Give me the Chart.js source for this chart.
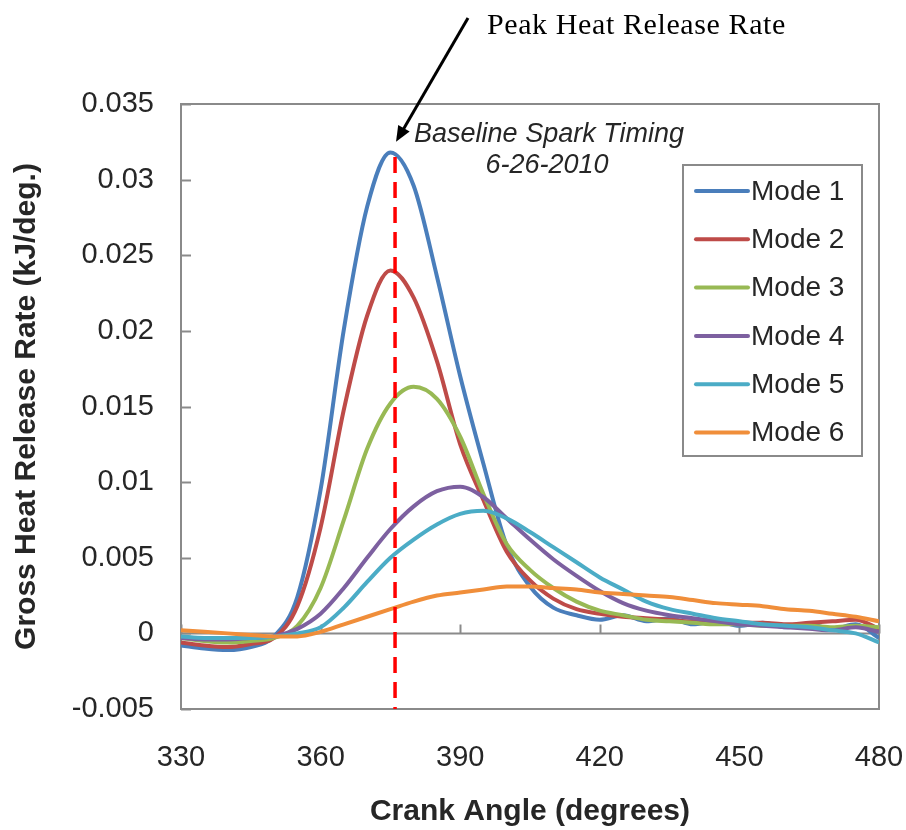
<!DOCTYPE html>
<html>
<head>
<meta charset="utf-8">
<script src="https://cdn.jsdelivr.net/npm/chart.js@4.4.0/dist/chart.umd.min.js"></script>
<style>
  html, body { margin: 0; padding: 0; background: #fff; }
  #wrap { width: 906px; height: 830px; }
</style>
</head>
<body>
<div id="wrap"><canvas id="hrrChart"></canvas></div>
<script>
// Crank angle samples (degrees)
const angles = [330, 335, 340, 345, 350, 355, 360, 365, 370, 375, 380, 385, 390, 395, 400, 405,
                410, 415, 420, 425, 430, 435, 440, 445, 450, 455, 460, 465, 470, 475, 480];

// Gross heat release rate per mode (kJ/deg.)
const mode1 = [-0.0008, -0.0010, -0.0011, -0.0009, -0.0002, 0.0024, 0.0095, 0.0201, 0.0282, 0.0318, 0.0296,
               0.0236, 0.0170, 0.0112, 0.0058, 0.0031, 0.0017, 0.0012, 0.0009, 0.0012, 0.0008, 0.0010,
               0.0006, 0.0008, 0.0005, 0.0007, 0.0004, 0.0006, 0.0003, 0.0006, -0.0003];
const mode2 = [-0.0006, -0.0008, -0.0009, -0.0007, -0.0003, 0.0018, 0.0070, 0.0148, 0.0210, 0.0240, 0.0222,
               0.0180, 0.0125, 0.0088, 0.0054, 0.0035, 0.0023, 0.0016, 0.0013, 0.0011, 0.0010, 0.0009,
               0.0008, 0.0008, 0.0007, 0.0007, 0.0006, 0.0007, 0.0008, 0.0009, 0.0003];
const mode3 = [-0.0003, -0.0005, -0.0006, -0.0005, -0.0003, 0.0005, 0.0030, 0.0075, 0.0122, 0.0152, 0.0163,
               0.0155, 0.0130, 0.0092, 0.0059, 0.0042, 0.0030, 0.0021, 0.0015, 0.0012, 0.0009, 0.0008,
               0.0007, 0.0006, 0.0006, 0.0005, 0.0005, 0.0005, 0.0004, 0.0005, 0.0004];
const mode4 = [-0.0003, -0.0004, -0.0004, -0.0003, -0.0002, 0.0003, 0.0013, 0.0030, 0.0050, 0.0069, 0.0084,
               0.0094, 0.0097, 0.0090, 0.0076, 0.0062, 0.0049, 0.0038, 0.0028, 0.0020, 0.0015, 0.0012,
               0.0010, 0.0008, 0.0006, 0.0005, 0.0004, 0.0003, 0.0002, 0.0004, 0.0001];
const mode5 = [-0.0002, -0.0003, -0.0003, -0.0003, -0.0002, 0.0000, 0.0004, 0.0017, 0.0034, 0.0050, 0.0062,
               0.0072, 0.0079, 0.0081, 0.0076, 0.0067, 0.0057, 0.0047, 0.0037, 0.0029, 0.0021, 0.0016,
               0.0013, 0.0010, 0.0008, 0.0006, 0.0005, 0.0004, 0.0002, 0.0000, -0.0006];
const mode6 = [0.0002, 0.0001, 0.0000, -0.0001, -0.0002, -0.0002, 0.0001, 0.0006, 0.0011, 0.0016, 0.0021,
               0.0025, 0.0027, 0.0029, 0.0031, 0.0031, 0.0030, 0.0029, 0.0027, 0.0026, 0.0025, 0.0024,
               0.0022, 0.0020, 0.0019, 0.0018, 0.0016, 0.0015, 0.0013, 0.0011, 0.0008];

const modeNames = ['Mode 1', 'Mode 2', 'Mode 3', 'Mode 4', 'Mode 5', 'Mode 6'];
const modeColors = ['#4A7EBB', '#BE4B48', '#98B954', '#7D60A0', '#4BACC6', '#F08E3A'];

// Baseline spark timing marker
const sparkAngle = 376;
const sparkRange = [0.0315, -0.005];

const xTickLabels = ['330', '360', '390', '420', '450', '480'];
const yTickLabels = ['-0.005', '0', '0.005', '0.01', '0.015', '0.02', '0.025', '0.03', '0.035'];

const allModes = [mode1, mode2, mode3, mode4, mode5, mode6];
const FRAME = '#8a8a8a';
const TEXT = '#262626';

const datasets = [{
    label: 'spark',
    data: sparkRange.map(v => ({ x: sparkAngle, y: v })),
    borderColor: '#FF0000',
    borderWidth: 3.5,
    borderDash: [16, 9],
    pointRadius: 0,
    order: 0
}];
allModes.forEach((vals, i) => {
    datasets.push({
        label: modeNames[i],
        data: vals.map((v, j) => ({ x: angles[j], y: v })),
        borderColor: modeColors[i],
        borderWidth: 4,
        pointRadius: 0,
        cubicInterpolationMode: 'monotone',
        order: 6 - i + 1
    });
});

// frame, zero axis with its ticks, legend box and the annotations
const decorations = {
    id: 'decorations',
    beforeDatasetsDraw(chart) {
        const { ctx, chartArea: a, scales: { x, y } } = chart;
        ctx.save();
        ctx.strokeStyle = FRAME;
        ctx.lineWidth = 2;
        ctx.strokeRect(a.left, a.top, a.right - a.left, a.bottom - a.top);

        // inward ticks on the left edge
        y.ticks.forEach(t => {
            const py = Math.round(y.getPixelForValue(t.value)) + 0.5;
            ctx.beginPath();
            ctx.moveTo(a.left, py);
            ctx.lineTo(a.left + 10, py);
            ctx.stroke();
        });

        // horizontal axis at zero with upward ticks
        const y0 = Math.round(y.getPixelForValue(0)) + 0.5;
        ctx.beginPath();
        ctx.moveTo(a.left, y0);
        ctx.lineTo(a.right, y0);
        ctx.stroke();
        x.ticks.forEach(t => {
            const px = Math.round(x.getPixelForValue(t.value)) + 0.5;
            ctx.beginPath();
            ctx.moveTo(px, y0);
            ctx.lineTo(px, y0 - 9);
            ctx.stroke();
        });
        ctx.restore();
    },
    afterDraw(chart) {
        const { ctx, scales: { x, y } } = chart;
        ctx.save();

        // legend
        const lx = 683, ly = 165, lw = 179, lh = 291;
        ctx.fillStyle = '#fff';
        ctx.fillRect(lx, ly, lw, lh);
        ctx.strokeStyle = FRAME;
        ctx.lineWidth = 2;
        ctx.strokeRect(lx, ly, lw, lh);
        ctx.font = '28px "Liberation Sans", Arial, sans-serif';
        ctx.textBaseline = 'middle';
        ctx.textAlign = 'left';
        modeNames.forEach((name, i) => {
            const rowY = ly + 26 + i * 48.3;
            ctx.strokeStyle = modeColors[i];
            ctx.lineWidth = 4;
            ctx.lineCap = 'round';
            ctx.beginPath();
            ctx.moveTo(lx + 13, rowY);
            ctx.lineTo(lx + 65, rowY);
            ctx.stroke();
            ctx.fillStyle = TEXT;
            ctx.fillText(name, lx + 68, rowY + 1);
        });

        // spark timing label
        const sx = x.getPixelForValue(sparkAngle);
        ctx.fillStyle = TEXT;
        ctx.textAlign = 'center';
        ctx.font = 'italic 27px "Liberation Sans", Arial, sans-serif';
        ctx.fillText('Baseline Spark Timing', 549, 134);
        ctx.fillText('6-26-2010', 547, 165);

        // peak callout with arrow
        ctx.fillStyle = '#000';
        ctx.textAlign = 'left';
        ctx.font = '30px "Liberation Serif", "Times New Roman", serif';
        ctx.letterSpacing = '0.6px';
        ctx.fillText('Peak Heat Release Rate', 487, 26);
        ctx.letterSpacing = '0px';

        const tipX = sx + 1, tipY = y.getPixelForValue(0.0325);
        const tailX = 468, tailY = 18;
        const ang = Math.atan2(tipY - tailY, tipX - tailX);
        ctx.strokeStyle = '#000';
        ctx.lineWidth = 3;
        ctx.lineCap = 'butt';
        ctx.beginPath();
        ctx.moveTo(tailX, tailY);
        ctx.lineTo(tipX - 12 * Math.cos(ang), tipY - 12 * Math.sin(ang));
        ctx.stroke();
        ctx.beginPath();
        ctx.moveTo(tipX, tipY);
        ctx.lineTo(tipX - 17 * Math.cos(ang - 0.4), tipY - 17 * Math.sin(ang - 0.4));
        ctx.lineTo(tipX - 17 * Math.cos(ang + 0.4), tipY - 17 * Math.sin(ang + 0.4));
        ctx.closePath();
        ctx.fill();
        ctx.restore();
    }
};

new Chart(document.getElementById('hrrChart'), {
    type: 'line',
    data: { datasets },
    plugins: [decorations],
    options: {
        responsive: true,
        maintainAspectRatio: false,
        animation: false,
        layout: { padding: { top: 104, right: 0, left: 0, bottom: 0 } },
        plugins: {
            legend: { display: false },
            tooltip: { enabled: false }
        },
        scales: {
            x: {
                type: 'linear',
                min: 330,
                max: 480,
                afterFit: s => { s.height = 121; s.paddingRight = 27; },
                grid: { display: false, drawTicks: false },
                border: { display: false },
                ticks: {
                    stepSize: 30,
                    padding: 32,
                    color: TEXT,
                    font: { family: '"Liberation Sans", Arial, sans-serif', size: 29 },
                    callback: (v, i) => xTickLabels[i]
                },
                title: {
                    display: true,
                    text: 'Crank Angle (degrees)',
                    color: TEXT,
                    padding: { top: 0, bottom: 0 },
                    font: { family: '"Liberation Sans", Arial, sans-serif', size: 30, weight: 'bold' }
                }
            },
            y: {
                min: -0.005,
                max: 0.035,
                afterFit: s => { s.width = 181; },
                grid: { display: false, drawTicks: false },
                border: { display: false },
                ticks: {
                    stepSize: 0.005,
                    padding: 27,
                    color: TEXT,
                    font: { family: '"Liberation Sans", Arial, sans-serif', size: 29 },
                    callback: (v, i) => yTickLabels[i]
                },
                title: {
                    display: true,
                    text: 'Gross Heat Release Rate (kJ/deg.)',
                    color: TEXT,
                    padding: { top: 9, bottom: 0 },
                    font: { family: '"Liberation Sans", Arial, sans-serif', size: 30, weight: 'bold' }
                }
            }
        }
    }
});
</script>
</body>
</html>
